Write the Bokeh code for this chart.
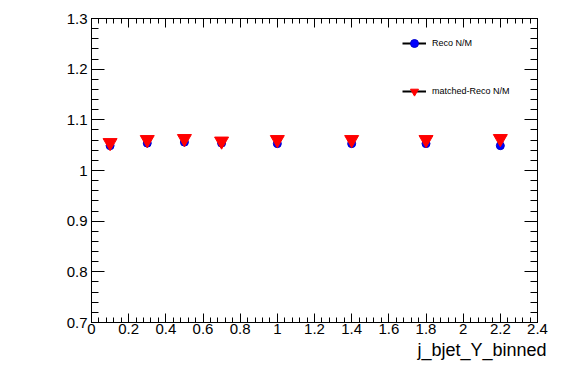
from bokeh.plotting import figure
from bokeh.models import (LinearAxis, FixedTicker, CustomJSTickFormatter, Range1d,
                          Legend, LegendItem, Title)
from bokeh.embed import file_html
from bokeh.resources import INLINE

# ---- data ----
x_bins = [0.1, 0.3, 0.5, 0.7, 1.0, 1.4, 1.8, 2.2]
reco_nm = [1.049, 1.054, 1.056, 1.054, 1.053, 1.053, 1.053, 1.049]
matched_reco_nm = [1.055, 1.061, 1.063, 1.058, 1.061, 1.061, 1.061, 1.063]

x_ticks = [0, 0.2, 0.4, 0.6, 0.8, 1.0, 1.2, 1.4, 1.6, 1.8, 2.0, 2.2, 2.4]
y_ticks = [0.7, 0.8, 0.9, 1.0, 1.1, 1.2, 1.3]
x_title = "j_bjet_Y_binned"
labels = ["Reco N/M", "matched-Reco N/M"]

FONT = "Liberation Sans"

p = figure(width=551, height=368, output_backend="svg", toolbar_location=None,
           x_range=Range1d(0, 2.4), y_range=Range1d(0.7, 1.3),
           min_border_left=91, min_border_right=14, min_border_top=18, min_border_bottom=46,
           x_axis_location=None, y_axis_location=None)
p.xgrid.visible = False
p.ygrid.visible = False
p.outline_line_color = "black"
p.outline_line_width = 1
p.background_fill_color = "white"
p.border_fill_color = "white"

x_minor = [i * 0.04 for i in range(61)]
y_minor = [0.7 + i * 0.02 for i in range(31)]
fmt = CustomJSTickFormatter(code="return (Math.round(tick*10)/10).toString();")
blank = CustomJSTickFormatter(code="return '';")


def style_axis(ax, is_x, show_labels):
    ax.ticker = FixedTicker(ticks=x_ticks if is_x else y_ticks,
                            minor_ticks=x_minor if is_x else y_minor)
    ax.axis_line_color = "black"
    ax.major_tick_line_color = "black"
    ax.minor_tick_line_color = "black"
    ax.major_tick_out = 0
    ax.minor_tick_out = 0
    if is_x:
        ax.major_tick_in = 9
        ax.minor_tick_in = 5
    else:
        ax.major_tick_in = 13
        ax.minor_tick_in = 7
    if show_labels:
        ax.formatter = fmt
        ax.major_label_text_font = FONT
        ax.major_label_text_font_size = "15px"
        ax.major_label_text_color = "black"
        ax.major_label_standoff = 1 if is_x else 4
    else:
        ax.formatter = blank
        ax.major_label_text_font = FONT
        ax.major_label_text_font_size = "1px"
        ax.major_label_standoff = 0


xb = LinearAxis(); style_axis(xb, True, True); p.add_layout(xb, "below")
xt = LinearAxis(); style_axis(xt, True, False); p.add_layout(xt, "above")
yl = LinearAxis(); style_axis(yl, False, True); p.add_layout(yl, "left")
yr = LinearAxis(); style_axis(yr, False, False); p.add_layout(yr, "right")

p.add_layout(Title(text=x_title, align="right", text_font=FONT, text_font_size="18px",
                   text_font_style="normal", text_color="black", standoff=3,
                   offset=-9), "below")

# legend line dummies (NaN data so nothing shows in the frame)
nan = float("nan")
l1 = p.line(x=[nan], y=[nan], line_color="black", line_width=2)
l2 = p.line(x=[nan], y=[nan], line_color="black", line_width=2)

r1 = p.scatter(x_bins, reco_nm, marker="circle", size=8, fill_color="#0000ff",
               line_color="#0000cc")
r2 = p.scatter(x_bins, matched_reco_nm, marker="inverted_triangle", size=14,
               fill_color="#ff0000", line_color="#ff0000")

legend = Legend(items=[LegendItem(label=labels[0], renderers=[l1, r1]),
                       LegendItem(label=labels[1], renderers=[l2, r2])],
                location=(311, 221), orientation="vertical",
                glyph_width=24, glyph_height=20, label_height=20, spacing=28,
                label_standoff=6, padding=0, margin=0,
                border_line_color=None, background_fill_alpha=0,
                label_text_font=FONT, label_text_font_size="9px", label_text_color="black")
p.add_layout(legend, "center")

open("out.html", "w").write(file_html(p, INLINE))
